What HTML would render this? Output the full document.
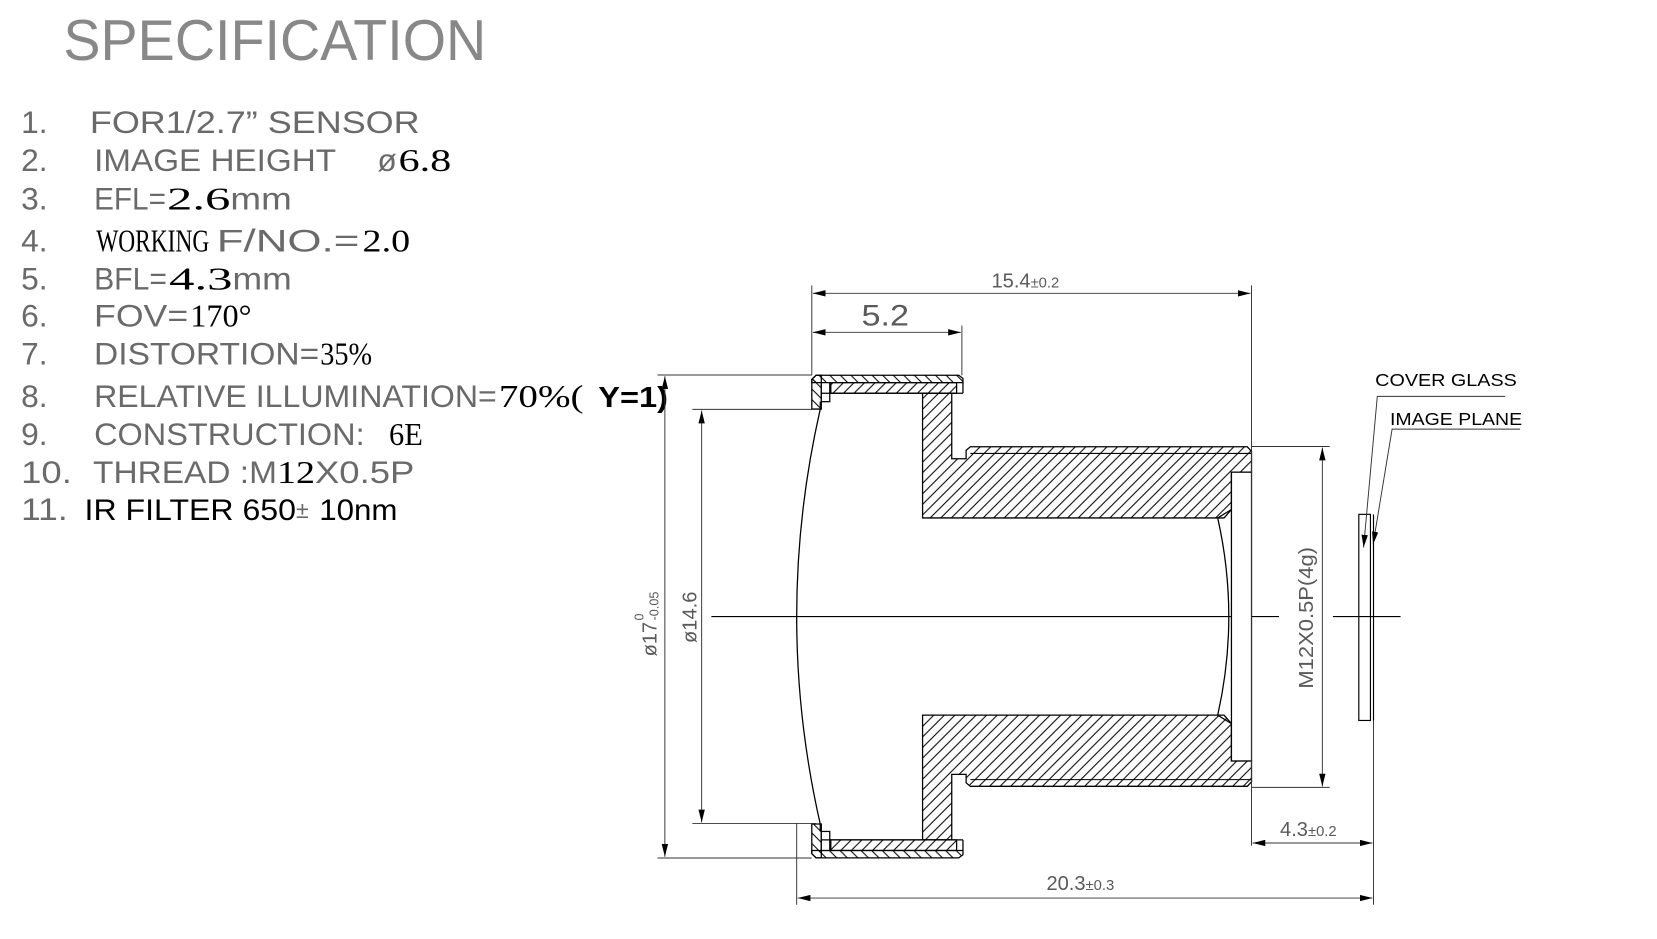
<!DOCTYPE html>
<html><head><meta charset="utf-8"><style>
html,body{margin:0;padding:0;background:#fff;}
svg{display:block;}
.g{fill:#6a6a6a;font-family:"Liberation Sans Narrow","Liberation Sans",sans-serif;}
.s{fill:#000;font-family:"Liberation Serif",serif;}
.b{fill:#000;font-family:"Liberation Sans",sans-serif;}
.d{fill:#5a5a5a;font-family:"Liberation Sans Narrow","Liberation Sans",sans-serif;}
</style></head><body>
<svg width="1657" height="939" viewBox="0 0 1567.6 888.35" preserveAspectRatio="none" xmlns="http://www.w3.org/2000/svg">
<defs>
<pattern id="h1" patternUnits="userSpaceOnUse" width="10" height="10">
<path d="M-2,12 L12,-2 M-2,2 L2,-2 M8,12 L12,8" stroke="#000" stroke-width="1"/>
</pattern>
<pattern id="h2" patternUnits="userSpaceOnUse" width="10" height="10">
<path d="M-2,-2 L12,12 M-2,8 L2,12 M8,-2 L12,2" stroke="#000" stroke-width="1"/>
</pattern>
<marker id="a" viewBox="0 0 12 6" refX="12" refY="3" markerWidth="12" markerHeight="6" markerUnits="userSpaceOnUse" orient="auto-start-reverse">
<path d="M0,0 L12,3 L0,6 Z" fill="#000"/>
</marker>
</defs>

<!-- Title -->
<text x="60" y="57" class="g" font-size="54" textLength="400" lengthAdjust="spacingAndGlyphs" style="fill:#888">SPECIFICATION</text>

<!-- List -->
<g font-size="30">
<text x="20" y="126" class="g">1.</text>
<text x="85" y="126" class="g" textLength="312" lengthAdjust="spacingAndGlyphs">FOR1/2.7” SENSOR</text>

<text x="20" y="162" class="g">2.</text>
<text x="89" y="162" class="g" textLength="229" lengthAdjust="spacingAndGlyphs">IMAGE HEIGHT</text>
<text x="357" y="162" class="g">ø</text><text x="377" y="162" class="s" textLength="50" lengthAdjust="spacingAndGlyphs">6.8</text>

<text x="20" y="198" class="g">3.</text>
<text x="89" y="198" class="g" textLength="68" lengthAdjust="spacingAndGlyphs">EFL=</text>
<text x="158" y="198" class="s" textLength="60" lengthAdjust="spacingAndGlyphs">2.6</text>
<text x="218" y="198" class="g" textLength="58" lengthAdjust="spacingAndGlyphs">mm</text>

<text x="20" y="238" class="g">4.</text>
<text x="91" y="238" class="s" textLength="107" lengthAdjust="spacingAndGlyphs">WORKING</text>
<text x="205" y="238" class="g" textLength="135" lengthAdjust="spacingAndGlyphs">F/NO.=</text>
<text x="343" y="238" class="s" textLength="45" lengthAdjust="spacingAndGlyphs">2.0</text>

<text x="20" y="274" class="g">5.</text>
<text x="89" y="274" class="g" textLength="69" lengthAdjust="spacingAndGlyphs">BFL=</text>
<text x="160" y="274" class="s" textLength="60" lengthAdjust="spacingAndGlyphs">4.3</text>
<text x="220" y="274" class="g" textLength="56" lengthAdjust="spacingAndGlyphs">mm</text>

<text x="20" y="309" class="g">6.</text>
<text x="89" y="309" class="g" textLength="89" lengthAdjust="spacingAndGlyphs">FOV=</text>
<text x="180" y="309" class="s" textLength="58" lengthAdjust="spacingAndGlyphs">170°</text>

<text x="20" y="345" class="g">7.</text>
<text x="89" y="345" class="g" textLength="213" lengthAdjust="spacingAndGlyphs">DISTORTION=</text>
<text x="303" y="345" class="s" textLength="49" lengthAdjust="spacingAndGlyphs">35%</text>

<text x="20" y="385" class="g">8.</text>
<text x="89" y="385" class="g" textLength="381" lengthAdjust="spacingAndGlyphs">RELATIVE ILLUMINATION=</text>
<text x="472" y="385" class="s" textLength="80" lengthAdjust="spacingAndGlyphs">70%(</text>
<text x="566" y="385" class="b" font-size="27" font-weight="bold" textLength="66" lengthAdjust="spacingAndGlyphs">Y=1)</text>

<text x="20" y="421" class="g">9.</text>
<text x="89" y="421" class="g" textLength="256" lengthAdjust="spacingAndGlyphs">CONSTRUCTION:</text>
<text x="368" y="421" class="s" textLength="32" lengthAdjust="spacingAndGlyphs">6E</text>

<text x="20" y="457" class="g" textLength="48" lengthAdjust="spacingAndGlyphs">10.</text>
<text x="88" y="457" class="g" textLength="174" lengthAdjust="spacingAndGlyphs">THREAD :M</text>
<text x="262" y="457" class="s" textLength="36" lengthAdjust="spacingAndGlyphs">12</text>
<text x="298" y="457" class="g" textLength="94" lengthAdjust="spacingAndGlyphs">X0.5P</text>

<text x="20" y="492" class="g" textLength="44" lengthAdjust="spacingAndGlyphs">11.</text>
<text x="80" y="492" class="b" font-size="28" textLength="200" lengthAdjust="spacingAndGlyphs">IR FILTER 650</text>
<text x="280" y="490" class="g" font-size="22">±</text>
<text x="302" y="492" class="b" font-size="28" textLength="74" lengthAdjust="spacingAndGlyphs">10nm</text>
</g>

<!-- Drawing -->
<g stroke="#000" stroke-width="1.2" fill="none">
<line x1="673" y1="583.3" x2="1210" y2="583.3" stroke-width="1"/>
<line x1="1261" y1="583.3" x2="1325" y2="583.3" stroke-width="1"/>

<path d="M872.8,372 L900.4,372 L900.4,434 L914,434 L914,426 L918,422.7 L1180,422.7 L1184,427 L1184,446.7 L1165,446.7 L1165,482 L1158,490 L872.8,490 Z" fill="url(#h1)"/>
<line x1="918" y1="429" x2="1184" y2="429" stroke-width="1"/>
<path d="M872.8,794.6 L900.4,794.6 L900.4,732.6 L914,732.6 L914,740.6 L918,743.9 L1180,743.9 L1184,739.6 L1184,719.9 L1165,719.9 L1165,684.6 L1158,676.6 L872.8,676.6 Z" fill="url(#h1)"/>
<line x1="918" y1="737.6" x2="1184" y2="737.6" stroke-width="1"/>
<rect x="1165" y="446.7" width="19" height="273.2" fill="#fff"/>
<path d="M1152,490 Q1173,583.3 1152,676.6"/>
<line x1="1152" y1="490" x2="1165" y2="482"/>
<line x1="1152" y1="676.6" x2="1165" y2="684.6"/>

<path d="M772,355 L907,355 L911,358 L911,362 L768,362 L768,359 Z" fill="url(#h2)"/>
<path d="M768,359 L772,355 L777,355 L777,387 L768,387 Z" fill="url(#h2)"/>
<rect x="786" y="362" width="119" height="10" fill="url(#h1)"/>
<rect x="777" y="362" width="8" height="18" fill="#fff"/>
<line x1="777" y1="372" x2="911" y2="372"/>
<line x1="911" y1="362" x2="911" y2="372"/>
<path d="M772,811.6 L907,811.6 L911,808.6 L911,804.6 L768,804.6 L768,807.6 Z" fill="url(#h2)"/>
<path d="M768,807.6 L772,811.6 L777,811.6 L777,779.6 L768,779.6 Z" fill="url(#h2)"/>
<rect x="786" y="794.6" width="119" height="10" fill="url(#h1)"/>
<rect x="777" y="786.6" width="8" height="18" fill="#fff"/>
<line x1="777" y1="794.6" x2="911" y2="794.6"/>
<line x1="911" y1="794.6" x2="911" y2="804.6"/>

<path d="M776,387 Q731.4,583.3 776,779.6"/>
<line x1="776" y1="380" x2="776" y2="387"/>
<line x1="776" y1="779.6" x2="776" y2="786.6"/>

<rect x="1285.5" y="486.6" width="11" height="195" stroke-width="1.1"/>
<line x1="1299.4" y1="486.6" x2="1299.4" y2="681.6" stroke-width="1.1"/>
</g>

<g stroke="#333" stroke-width="0.9" fill="none">
<line x1="768" y1="270" x2="768" y2="355"/>
<line x1="1184" y1="270" x2="1184" y2="800"/>
<line x1="769" y1="277.5" x2="1183" y2="277.5" marker-start="url(#a)" marker-end="url(#a)"/>
<line x1="910" y1="308" x2="910" y2="355"/>
<line x1="769" y1="314.4" x2="909" y2="314.4" marker-start="url(#a)" marker-end="url(#a)"/>
<line x1="622" y1="354.8" x2="768" y2="354.8"/>
<line x1="622" y1="811.7" x2="768" y2="811.7"/>
<line x1="629" y1="356" x2="629" y2="810.5" marker-start="url(#a)" marker-end="url(#a)"/>
<line x1="655" y1="387.3" x2="772" y2="387.3"/>
<line x1="655" y1="779" x2="772" y2="779"/>
<line x1="663.8" y1="388.5" x2="663.8" y2="778" marker-start="url(#a)" marker-end="url(#a)"/>
<line x1="1184" y1="422.4" x2="1258" y2="422.4"/>
<line x1="1184" y1="744.9" x2="1258" y2="744.9"/>
<line x1="1251" y1="423.5" x2="1251" y2="744" marker-start="url(#a)" marker-end="url(#a)"/>
<line x1="753.7" y1="779" x2="753.7" y2="856"/>
<line x1="1299.4" y1="681.6" x2="1299.4" y2="856"/>
<line x1="1185" y1="797.5" x2="1298.4" y2="797.5" marker-start="url(#a)" marker-end="url(#a)"/>
<line x1="754.7" y1="849.6" x2="1298.4" y2="849.6" marker-start="url(#a)" marker-end="url(#a)"/>
<polyline points="1424,375 1303,375 1290,518" marker-end="url(#a)"/>
<polyline points="1438,406 1317,406 1299,515" marker-end="url(#a)"/>
</g>

<text x="938" y="272" class="d" font-size="19">15.4<tspan font-size="14">±0.2</tspan></text>
<text x="815" y="308" class="d" font-size="28" textLength="45" lengthAdjust="spacingAndGlyphs">5.2</text>
<text x="1211" y="791" class="d" font-size="19">4.3<tspan font-size="14">±0.2</tspan></text>
<text x="990" y="842" class="d" font-size="19">20.3<tspan font-size="14">±0.3</tspan></text>
<text transform="translate(1242,584.5) rotate(-90)" text-anchor="middle" class="d" font-size="19" textLength="134" lengthAdjust="spacingAndGlyphs">M12X0.5P(4g)</text>
<text transform="translate(659,584) rotate(-90)" text-anchor="middle" class="d" font-size="19">ø14.6</text>
<g transform="translate(621,584) rotate(-90)">
<text x="-37" y="0" class="d" font-size="19">ø17</text>
<text x="-3" y="-12" class="d" font-size="12">0</text>
<text x="-3" y="2" class="d" font-size="12">-0.05</text>
</g>

<text x="1301" y="365" class="b" font-size="17" textLength="134" lengthAdjust="spacingAndGlyphs">COVER GLASS</text>
<text x="1315" y="402" class="b" font-size="17" textLength="125" lengthAdjust="spacingAndGlyphs">IMAGE PLANE</text>
</svg>
</body></html>
